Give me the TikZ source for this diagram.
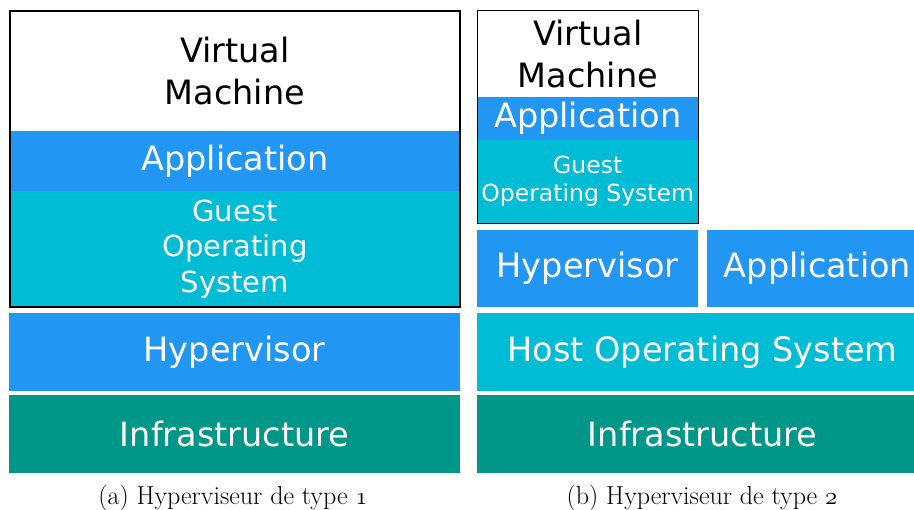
\documentclass[tikz,border=0pt]{standalone}
\usepackage{fontspec}
\usetikzlibrary{fit}
\newfontfamily\dv{DejaVu Sans}
\definecolor{hblue}{HTML}{2196F3}
\definecolor{hcyan}{HTML}{00BCD4}
\definecolor{hteal}{HTML}{009688}
\tikzset{
  layer/.style={rectangle, inner sep=0pt, text=white, align=center, font=\dv\fontsize{33.5}{42}\selectfont},
  vmframe/.style={draw=black, inner sep=0pt, rectangle},
  captionlabel/.style={font=\fontsize{26}{31}\selectfont, inner sep=0pt}
}
\begin{document}
\begin{tikzpicture}[x=1pt,y=-1pt]
\clip (0,0) rectangle (914,510);
% ---- (a) type 1
\node[layer, text=black, minimum width=450pt, minimum height=120pt] (lvmt) at (235,71) {Virtual\\Machine};
\node[layer, fill=hblue, minimum width=450pt, minimum height=60pt] (lapp) at (235,161) {Application};
\node[layer, fill=hcyan, minimum width=450pt, minimum height=116pt, font=\dv\fontsize{29}{35.5}\selectfont] (lguest) at (235,249) {Guest\\Operating\\System};
\node[vmframe, line width=1.8pt, fit=(lvmt)(lguest)] (lvm) {};
\node[layer, fill=hblue, minimum width=451pt, minimum height=78pt] (lhyp) at (234.5,352) {Hypervisor};
\node[layer, fill=hteal, minimum width=451pt, minimum height=78pt] (linfra) at (234.5,434) {Infrastructure};
% ---- (b) type 2
\node[layer, text=black, minimum width=220.5pt, minimum height=86pt] (rvmt) at (587.75,54) {Virtual\\Machine};
\node[layer, fill=hblue, minimum width=220.5pt, minimum height=43pt] (rapp) at (587.75,118.5) {Application};
\node[layer, fill=hcyan, minimum width=220.5pt, minimum height=83pt, font=\dv\fontsize{23.5}{28}\selectfont] (rguest) at (587.75,181.5) {Guest\\Operating System};
\node[vmframe, line width=1.3pt, fit=(rvmt)(rguest)] (rvm) {};
\node[layer, fill=hblue, minimum width=221pt, minimum height=77pt] (rhyp) at (587.5,268.5) {Hypervisor};
\node[layer, fill=hblue, minimum width=221pt, minimum height=77pt] (rapp2) at (817.5,268.5) {Application};
\node[layer, fill=hcyan, minimum width=451pt, minimum height=78pt] (rhost) at (702.5,352) {Host Operating System};
\node[layer, fill=hteal, minimum width=451pt, minimum height=78pt] (rinfra) at (702.5,434) {Infrastructure};
% ---- captions
\node[captionlabel] (capa) at (233,498) {(a) Hyperviseur de type \ensuremath{\mathnormal{1}}};
\node[captionlabel] (capb) at (702,498) {(b) Hyperviseur de type \ensuremath{\mathnormal{2}}};
\end{tikzpicture}
\end{document}
